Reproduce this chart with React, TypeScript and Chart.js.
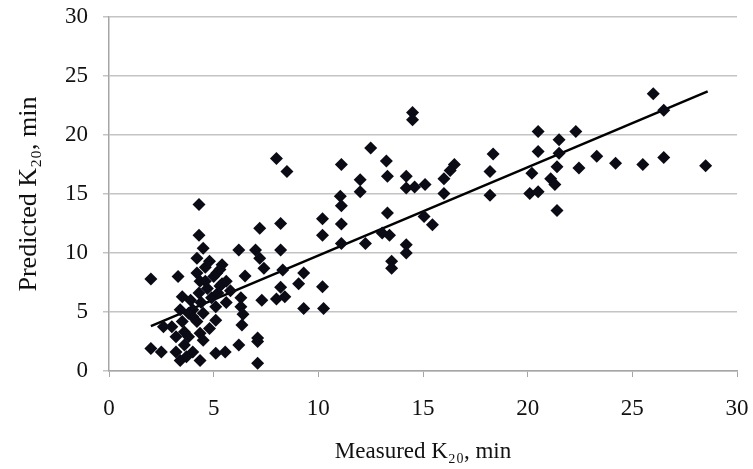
import React, { useEffect, useRef } from "react";
import { Chart, registerables } from "chart.js";

Chart.register(...registerables);

const measured: number[] = [
  2.0, 2.0, 2.5, 2.6, 3.0, 3.2, 3.2, 3.3, 3.4, 3.4, 3.5, 3.5, 3.6, 3.7, 3.8, 3.9, 4.0, 4.0, 4.0,
  4.2, 4.2, 4.2, 4.3, 4.3, 4.3, 4.35, 4.35, 4.35, 4.4, 4.5, 4.5, 4.6, 4.7, 4.8, 4.9, 5.0, 5.1, 5.1,
  5.1, 5.15, 5.2, 5.3, 5.4, 5.4, 5.55, 5.6, 5.8, 6.2, 6.2, 6.3, 6.3, 6.35, 6.5, 6.4, 7.0, 7.1, 7.1,
  7.2, 7.2, 7.3, 7.4, 7.1, 8.0, 8.2, 8.2, 8.2, 8.0, 8.3, 8.5, 8.4, 9.06, 9.3, 9.3, 10.2, 10.2, 10.2,
  10.25, 4.6, 4.8, 5.3, 3.8, 4.5, 5.6, 3.6,
  11.1, 11.05, 11.1, 11.1, 11.1, 12.0, 12.0, 12.25, 12.5, 13.05, 13.25, 13.3, 13.3, 13.4, 13.5, 13.5,
  14.2, 14.2, 14.2, 14.2, 14.5, 14.5, 14.6, 15.05, 15.1, 15.45, 16.0, 16.0, 16.5, 16.3,
  18.2, 18.2, 18.35, 20.1, 20.2, 20.5, 20.5, 20.5, 21.1, 21.3, 21.4, 21.4, 21.5, 21.5, 22.3, 22.45,
  23.3, 24.2, 25.5, 26.0, 26.5, 26.5, 28.5,
];

const predicted: number[] = [
  7.8, 1.9, 1.6, 3.75, 3.75, 1.6, 2.9, 8.0, 0.9, 5.2, 4.2, 6.3, 3.3, 1.2, 2.9, 6.0, 1.6, 5.2, 4.6,
  9.55, 8.3, 4.2, 14.1, 11.5, 6.6, 7.6, 3.2, 0.9, 5.8, 10.4, 2.6, 8.8, 7.0, 3.6, 6.2, 8.0, 5.45, 4.3,
  1.5, 8.3, 6.6, 7.2, 9.0, 7.4, 1.6, 5.8, 6.8, 10.25, 2.2, 6.2, 5.45, 3.9, 8.05, 4.8, 10.25, 2.8, 0.65,
  12.1, 9.55, 6.0, 8.7, 2.5, 18.0, 12.5, 10.25, 7.1, 6.1, 8.55, 16.9, 6.3, 7.4, 8.3, 5.3, 12.9, 11.5, 7.15,
  5.3, 7.6, 9.3, 8.6, 4.9, 4.9, 7.6, 2.2,
  17.5, 14.8, 14.0, 12.45, 10.8, 16.2, 15.2, 10.8, 18.9, 11.7, 17.8, 16.5, 13.4, 11.5, 9.3, 8.7,
  16.5, 15.5, 10.7, 10.0, 21.9, 21.3, 15.6, 13.1, 15.8, 12.4, 16.3, 15.05, 17.5, 17.0,
  16.9, 14.9, 18.4, 15.05, 16.75, 20.3, 18.6, 15.2, 16.3, 15.8, 17.3, 13.6, 19.6, 18.45, 20.3, 17.2,
  18.2, 17.6, 17.5, 23.5, 22.1, 18.1, 17.4,
];

const trendX: number[] = [2.0, 28.6];
const trendY: number[] = [3.8, 23.7];

const xTicks: number[] = [0, 5, 10, 15, 20, 25, 30];
const yTicks: number[] = [0, 5, 10, 15, 20, 25, 30];

const FONT = "'Liberation Serif', 'DejaVu Serif', serif";
const TEXT = "#111111";

export default function App() {
  const ref = useRef<HTMLCanvasElement | null>(null);

  useEffect(() => {
    if (!ref.current) return;
    const points = measured.map((x, i) => ({ x, y: predicted[i] }));
    const trend = trendX.map((x, i) => ({ x, y: trendY[i] }));
    const chart = new Chart(ref.current, {
      type: "scatter",
      data: {
        datasets: [
          {
            type: "scatter",
            label: "Data",
            data: points,
            pointStyle: "rectRot",
            pointRadius: 6.5,
            backgroundColor: "#0b0b16",
            borderColor: "#0b0b16",
            borderWidth: 0,
          },
          {
            type: "line",
            label: "Trend",
            data: trend,
            borderColor: "#000000",
            borderWidth: 2.5,
            pointRadius: 0,
            fill: false,
          },
        ],
      },
      options: {
        animation: false,
        responsive: false,
        maintainAspectRatio: false,
        layout: { padding: { left: 0, right: 16, top: 17, bottom: 0 } },
        plugins: { legend: { display: false }, tooltip: { enabled: false } },
        scales: {
          x: {
            type: "linear",
            min: 0,
            max: 30,
            afterBuildTicks: (s: any) => {
              s.ticks = xTicks.map((v) => ({ value: v }));
            },
            afterFit: (s: any) => {
              s.height = 98;
              s.paddingLeft = 0;
              s.paddingRight = 0;
            },
            grid: {
              drawOnChartArea: false,
              drawTicks: true,
              tickLength: 6,
              color: "#a6a6a6",
            },
            border: { color: "#a6a6a6", width: 1.5 },
            ticks: {
              color: TEXT,
              font: { family: FONT, size: 23 },
              padding: 18,
              maxRotation: 0,
            },
            title: {
              display: true,
              text: "Measured K₂₀, min",
              color: TEXT,
              font: { family: FONT, size: 23 },
              padding: { top: 0, bottom: 3 },
            },
          },
          y: {
            type: "linear",
            min: 0,
            max: 30,
            afterBuildTicks: (s: any) => {
              s.ticks = yTicks.map((v) => ({ value: v }));
            },
            afterFit: (s: any) => {
              s.width = 109;
              s.paddingTop = 0;
              s.paddingBottom = 0;
            },
            grid: {
              drawOnChartArea: true,
              drawTicks: true,
              tickLength: 6,
              color: "#c4c4c4",
              lineWidth: 1.5,
            },
            border: { color: "#a6a6a6", width: 1.5 },
            ticks: {
              color: TEXT,
              font: { family: FONT, size: 23 },
              padding: 15,
            },
            title: {
              display: true,
              text: "Predicted K₂₀, min",
              color: TEXT,
              font: { family: FONT, size: 26 },
              padding: { top: 14, bottom: 0 },
            },
          },
        },
      },
    });
    return () => chart.destroy();
  }, []);

  return (
    <div style={{ position: "fixed", left: 0, top: 0, width: 753, height: 469, background: "#fff" }}>
      <canvas ref={ref} width={753} height={469} style={{ width: 753, height: 469, display: "block" }} />
    </div>
  );
}
